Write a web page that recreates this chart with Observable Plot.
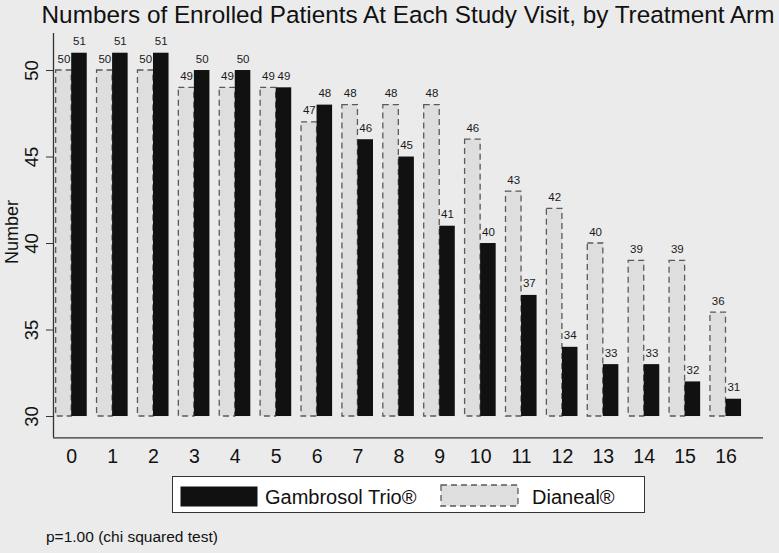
<!DOCTYPE html>
<html>
<head>
<meta charset="utf-8">
<script src="https://cdn.jsdelivr.net/npm/d3@7"></script>
<script src="https://cdn.jsdelivr.net/npm/@observablehq/plot@0.6"></script>
<style>
  html, body { margin: 0; padding: 0; background: #ebebeb; }
  body { font-family: "Liberation Sans", Arial, Helvetica, sans-serif; color: #111; }
  #wrap { position: relative; width: 779px; height: 553px; background: #ebebeb; overflow: hidden; }
  #title { position: absolute; left: 53px; width: 710px; top: 3px; text-align: center; white-space: nowrap;
           font-size: 24.3px; line-height: 24px; display: flex; justify-content: center; }
  #chart { position: absolute; left: 0; top: 28px; }
  #ylabel { position: absolute; left: 12px; top: 232px; transform: translate(-50%, -50%) rotate(-90deg);
            font-size: 18px; white-space: nowrap; line-height: 18px; }
  #legend { position: absolute; left: 172px; top: 476px; width: 471px; height: 35px; background: #fff;
            border: 1px solid #333; }
  .sw { position: absolute; }
  .lt { position: absolute; font-size: 20px; line-height: 20px; white-space: nowrap; }
  #caption { position: absolute; left: 46px; top: 528px; font-size: 15.5px; line-height: 18px; white-space: nowrap; }
</style>
</head>
<body>
<div id="wrap">
  <div id="title"></div>
  <div id="chart"></div>
  <div id="ylabel"></div>
  <div id="legend"></div>
  <div id="caption"></div>
</div>
<script>
// ---- data ----
const titleText = "Numbers of Enrolled Patients At Each Study Visit, by Treatment Arm";
const yLabel = "Number";
const caption = "p=1.00 (chi squared test)";
const visits = [0, 1, 2, 3, 4, 5, 6, 7, 8, 9, 10, 11, 12, 13, 14, 15, 16];
const gambrosol = [51, 51, 51, 50, 50, 49, 48, 46, 45, 41, 40, 37, 34, 33, 33, 32, 31];
const dianeal   = [50, 50, 50, 49, 49, 49, 47, 48, 48, 48, 46, 43, 42, 40, 39, 39, 36];
const arms = ["Gambrosol Trio®", "Dianeal®"];
const yTicks = [30, 35, 40, 45, 50];
const baseValue = 30;

// ---- layout constants ----
const xDomain = [-0.445, 16.917];
const yDomain = [28.77, 52.14];
const barW = 0.38;
const font = '"Liberation Sans", Arial, Helvetica, sans-serif';

const dRows = visits.map((v, i) => ({visit: v, arm: arms[1], value: dianeal[i]}));
const gRows = visits.map((v, i) => ({visit: v, arm: arms[0], value: gambrosol[i]}));

const plot = Plot.plot({
  width: 779,
  height: 442,
  marginLeft: 53,
  marginRight: 16,
  marginTop: 5,
  marginBottom: 32.7,
  style: {background: "transparent", fontFamily: font, color: "#111", overflow: "visible"},
  x: {domain: xDomain, axis: null},
  y: {domain: yDomain, axis: null},
  marks: [
    Plot.rect(dRows, {x1: d => d.visit - barW, x2: "visit", y1: baseValue, y2: "value",
      fill: "#dedede", stroke: "#5a5a5a", strokeWidth: 1.3, strokeDasharray: "6,4"}),
    Plot.rect(gRows, {x1: "visit", x2: d => d.visit + barW, y1: baseValue, y2: "value",
      fill: "#111111"}),
    Plot.text(dRows, {x: d => d.visit - barW / 2, y: "value", text: d => String(d.value),
      lineAnchor: "bottom", dy: -8, fontSize: 11.5, fill: "#1a1a1a"}),
    Plot.text(gRows, {x: d => d.visit + barW / 2, y: "value", text: d => String(d.value),
      lineAnchor: "bottom", dy: -8, fontSize: 11.5, fill: "#1a1a1a"}),
    Plot.ruleX([xDomain[0]], {stroke: "#333", strokeWidth: 1.3}),
    Plot.ruleY([yDomain[0]], {stroke: "#333", strokeWidth: 1.3}),
    Plot.axisX({ticks: visits, tickSize: 0, tickPadding: 11, fontSize: 19.5, label: null,
      tickFormat: d => String(d)}),
    Plot.axisY({ticks: yTicks, tickSize: 7, tickPadding: 9, tickRotate: -90, textAnchor: "middle",
      lineAnchor: "bottom", fontSize: 18.5, label: null, tickFormat: d => String(d), stroke: "#333"})
  ]
});
document.getElementById("chart").appendChild(plot);

document.getElementById("title").textContent = titleText;
document.getElementById("ylabel").textContent = yLabel;
document.getElementById("caption").textContent = caption;

const legend = document.getElementById("legend");
legend.innerHTML =
  `<svg class="sw" style="left:7px;top:9px" width="78" height="21"><rect x="0.5" y="0.5" width="77" height="20" fill="#111"/></svg>` +
  `<div class="lt" style="left:92px;top:10px">${arms[0]}</div>` +
  `<svg class="sw" style="left:267px;top:7px" width="79" height="23"><rect x="1" y="1" width="77" height="21" fill="#dedede" stroke="#5a5a5a" stroke-width="1.3" stroke-dasharray="6,4"/></svg>` +
  `<div class="lt" style="left:359px;top:10px">${arms[1]}</div>`;
</script>
</body>
</html>
